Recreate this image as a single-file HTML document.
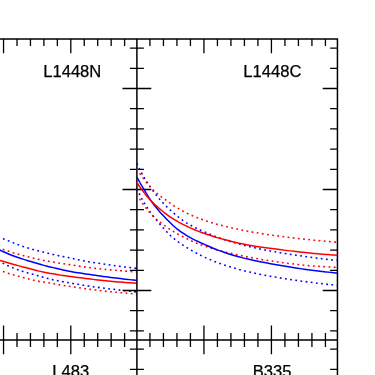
<!DOCTYPE html>
<html><head><meta charset="utf-8"><title>chart</title>
<style>
html,body{margin:0;padding:0;background:#fff;}
body{width:375px;height:375px;overflow:hidden;font-family:"Liberation Sans",sans-serif;}
svg{display:block;}
</style></head><body>
<svg width="375" height="375" viewBox="0 0 375 375">
<rect width="375" height="375" fill="#fff"/>
<path d="M-2.00 237.05 C-1.17 237.33 1.33 238.13 3.00 238.73 C4.67 239.33 6.33 239.99 8.00 240.64 C9.67 241.30 11.33 241.98 13.00 242.64 C14.67 243.31 16.33 244.01 18.00 244.64 C19.67 245.27 21.33 245.88 23.00 246.44 C24.67 247.00 26.33 247.50 28.00 248.00 C29.67 248.51 31.33 248.98 33.00 249.46 C34.67 249.93 36.33 250.41 38.00 250.85 C39.67 251.29 41.33 251.68 43.00 252.09 C44.67 252.49 46.33 252.88 48.00 253.28 C49.67 253.68 51.33 254.10 53.00 254.49 C54.67 254.88 56.33 255.25 58.00 255.61 C59.67 255.96 61.33 256.29 63.00 256.61 C64.67 256.93 66.33 257.22 68.00 257.55 C69.67 257.87 71.33 258.22 73.00 258.57 C74.67 258.92 76.33 259.29 78.00 259.65 C79.67 260.01 81.33 260.37 83.00 260.72 C84.67 261.07 86.33 261.44 88.00 261.75 C89.67 262.06 91.33 262.33 93.00 262.57 C94.67 262.82 96.33 263.00 98.00 263.21 C99.67 263.43 101.33 263.63 103.00 263.86 C104.67 264.09 106.33 264.35 108.00 264.60 C109.67 264.85 111.33 265.11 113.00 265.36 C114.67 265.60 116.33 265.84 118.00 266.07 C119.67 266.31 121.33 266.53 123.00 266.75 C124.67 266.97 126.33 267.18 128.00 267.39 C129.67 267.59 131.52 267.81 133.00 267.98 C134.48 268.15 136.25 268.34 136.90 268.41" fill="none" stroke="#0000ff" stroke-width="1.55" stroke-dasharray="1.8 3.4"/>
<path d="M-2.00 260.60 C-1.17 261.05 1.33 262.45 3.00 263.30 C4.67 264.15 6.33 264.95 8.00 265.71 C9.67 266.47 11.33 267.18 13.00 267.86 C14.67 268.54 16.33 269.18 18.00 269.78 C19.67 270.39 21.33 270.95 23.00 271.48 C24.67 272.01 26.33 272.49 28.00 272.97 C29.67 273.44 31.33 273.87 33.00 274.33 C34.67 274.80 36.33 275.27 38.00 275.75 C39.67 276.22 41.33 276.72 43.00 277.20 C44.67 277.67 46.33 278.16 48.00 278.60 C49.67 279.04 51.33 279.45 53.00 279.82 C54.67 280.18 56.33 280.49 58.00 280.81 C59.67 281.13 61.33 281.43 63.00 281.73 C64.67 282.03 66.33 282.32 68.00 282.61 C69.67 282.91 71.33 283.22 73.00 283.51 C74.67 283.80 76.33 284.09 78.00 284.36 C79.67 284.64 81.33 284.90 83.00 285.16 C84.67 285.42 86.33 285.68 88.00 285.93 C89.67 286.18 91.33 286.43 93.00 286.67 C94.67 286.91 96.33 287.16 98.00 287.39 C99.67 287.62 101.33 287.83 103.00 288.05 C104.67 288.26 106.33 288.46 108.00 288.66 C109.67 288.86 111.33 289.06 113.00 289.26 C114.67 289.46 116.33 289.65 118.00 289.85 C119.67 290.04 121.33 290.23 123.00 290.42 C124.67 290.61 126.33 290.80 128.00 290.98 C129.67 291.17 131.52 291.38 133.00 291.54 C134.48 291.70 136.25 291.90 136.90 291.97" fill="none" stroke="#0000ff" stroke-width="1.55" stroke-dasharray="1.8 3.4"/>
<path d="M-2.00 247.25 C-1.17 247.59 1.33 248.64 3.00 249.29 C4.67 249.93 6.33 250.53 8.00 251.10 C9.67 251.67 11.33 252.21 13.00 252.72 C14.67 253.24 16.33 253.73 18.00 254.20 C19.67 254.67 21.33 255.12 23.00 255.56 C24.67 256.01 26.33 256.43 28.00 256.85 C29.67 257.27 31.33 257.67 33.00 258.07 C34.67 258.47 36.33 258.88 38.00 259.26 C39.67 259.64 41.33 260.00 43.00 260.34 C44.67 260.67 46.33 260.98 48.00 261.27 C49.67 261.56 51.33 261.82 53.00 262.09 C54.67 262.35 56.33 262.60 58.00 262.86 C59.67 263.11 61.33 263.37 63.00 263.61 C64.67 263.86 66.33 264.10 68.00 264.36 C69.67 264.61 71.33 264.89 73.00 265.17 C74.67 265.44 76.33 265.73 78.00 265.99 C79.67 266.26 81.33 266.50 83.00 266.74 C84.67 266.98 86.33 267.19 88.00 267.41 C89.67 267.62 91.33 267.83 93.00 268.04 C94.67 268.24 96.33 268.44 98.00 268.63 C99.67 268.82 101.33 269.00 103.00 269.16 C104.67 269.33 106.33 269.49 108.00 269.64 C109.67 269.80 111.33 269.95 113.00 270.10 C114.67 270.25 116.33 270.39 118.00 270.53 C119.67 270.67 121.33 270.81 123.00 270.94 C124.67 271.07 126.33 271.20 128.00 271.33 C129.67 271.46 131.52 271.59 133.00 271.70 C134.48 271.81 136.25 271.93 136.90 271.97" fill="none" stroke="#ff0000" stroke-width="1.55" stroke-dasharray="1.8 3.4"/>
<path d="M-2.00 269.86 C-1.17 270.15 1.33 271.01 3.00 271.56 C4.67 272.12 6.33 272.66 8.00 273.19 C9.67 273.72 11.33 274.23 13.00 274.72 C14.67 275.22 16.33 275.70 18.00 276.17 C19.67 276.63 21.33 277.09 23.00 277.53 C24.67 277.97 26.33 278.41 28.00 278.82 C29.67 279.24 31.33 279.65 33.00 280.04 C34.67 280.42 36.33 280.80 38.00 281.12 C39.67 281.43 41.33 281.67 43.00 281.94 C44.67 282.21 46.33 282.44 48.00 282.71 C49.67 282.99 51.33 283.30 53.00 283.60 C54.67 283.90 56.33 284.24 58.00 284.53 C59.67 284.83 61.33 285.11 63.00 285.37 C64.67 285.62 66.33 285.83 68.00 286.08 C69.67 286.32 71.33 286.57 73.00 286.82 C74.67 287.07 76.33 287.34 78.00 287.59 C79.67 287.84 81.33 288.09 83.00 288.33 C84.67 288.57 86.33 288.80 88.00 289.03 C89.67 289.26 91.33 289.48 93.00 289.70 C94.67 289.92 96.33 290.14 98.00 290.34 C99.67 290.55 101.33 290.74 103.00 290.92 C104.67 291.10 106.33 291.27 108.00 291.44 C109.67 291.61 111.33 291.78 113.00 291.94 C114.67 292.10 116.33 292.26 118.00 292.41 C119.67 292.57 121.33 292.72 123.00 292.86 C124.67 293.01 126.33 293.15 128.00 293.29 C129.67 293.43 131.52 293.58 133.00 293.70 C134.48 293.82 136.25 293.96 136.90 294.01" fill="none" stroke="#ff0000" stroke-width="1.55" stroke-dasharray="1.8 3.4"/>
<path d="M-2.00 249.08 C-1.17 249.48 1.33 250.72 3.00 251.50 C4.67 252.27 6.33 253.03 8.00 253.74 C9.67 254.44 11.33 255.10 13.00 255.73 C14.67 256.35 16.33 256.92 18.00 257.49 C19.67 258.06 21.33 258.60 23.00 259.13 C24.67 259.66 26.33 260.17 28.00 260.68 C29.67 261.19 31.33 261.67 33.00 262.17 C34.67 262.67 36.33 263.20 38.00 263.69 C39.67 264.18 41.33 264.67 43.00 265.12 C44.67 265.58 46.33 265.99 48.00 266.41 C49.67 266.83 51.33 267.23 53.00 267.62 C54.67 268.02 56.33 268.42 58.00 268.81 C59.67 269.20 61.33 269.60 63.00 269.96 C64.67 270.33 66.33 270.68 68.00 271.01 C69.67 271.35 71.33 271.68 73.00 271.98 C74.67 272.29 76.33 272.58 78.00 272.84 C79.67 273.11 81.33 273.34 83.00 273.57 C84.67 273.81 86.33 274.03 88.00 274.27 C89.67 274.50 91.33 274.74 93.00 274.99 C94.67 275.23 96.33 275.50 98.00 275.74 C99.67 275.98 101.33 276.21 103.00 276.44 C104.67 276.66 106.33 276.87 108.00 277.08 C109.67 277.29 111.33 277.50 113.00 277.70 C114.67 277.91 116.33 278.11 118.00 278.30 C119.67 278.50 121.33 278.69 123.00 278.88 C124.67 279.07 126.33 279.26 128.00 279.44 C129.67 279.63 131.52 279.83 133.00 279.99 C134.48 280.15 136.25 280.33 136.90 280.40" fill="none" stroke="#0000ff" stroke-width="1.50"/>
<path d="M-2.00 260.02 C-1.17 260.23 1.33 260.81 3.00 261.26 C4.67 261.72 6.33 262.25 8.00 262.74 C9.67 263.23 11.33 263.73 13.00 264.21 C14.67 264.68 16.33 265.15 18.00 265.61 C19.67 266.06 21.33 266.50 23.00 266.94 C24.67 267.38 26.33 267.80 28.00 268.24 C29.67 268.67 31.33 269.11 33.00 269.55 C34.67 269.99 36.33 270.46 38.00 270.87 C39.67 271.28 41.33 271.65 43.00 271.99 C44.67 272.34 46.33 272.65 48.00 272.95 C49.67 273.26 51.33 273.56 53.00 273.84 C54.67 274.13 56.33 274.40 58.00 274.67 C59.67 274.94 61.33 275.20 63.00 275.45 C64.67 275.70 66.33 275.93 68.00 276.15 C69.67 276.38 71.33 276.61 73.00 276.82 C74.67 277.04 76.33 277.25 78.00 277.46 C79.67 277.67 81.33 277.88 83.00 278.09 C84.67 278.31 86.33 278.53 88.00 278.75 C89.67 278.96 91.33 279.18 93.00 279.38 C94.67 279.59 96.33 279.80 98.00 279.99 C99.67 280.17 101.33 280.35 103.00 280.52 C104.67 280.69 106.33 280.84 108.00 281.00 C109.67 281.16 111.33 281.31 113.00 281.46 C114.67 281.60 116.33 281.75 118.00 281.88 C119.67 282.02 121.33 282.16 123.00 282.29 C124.67 282.42 126.33 282.55 128.00 282.67 C129.67 282.80 131.52 282.93 133.00 283.04 C134.48 283.14 136.25 283.26 136.90 283.30" fill="none" stroke="#ff0000" stroke-width="1.50"/>
<g stroke="#000" stroke-width="1.50" fill="none" stroke-linecap="butt">
<path d="M0 38.90 H338.20 M0 339.90 H337.45 M136.90 38.90 V375 M337.45 38.15 V375"/>
</g>
<g stroke="#000" stroke-width="1.30" fill="none">
<path d="M-9.90 38.90 v7.00 M-9.90 332.90 v14.00 M3.55 38.90 v14.40 M3.55 325.50 v28.80 M17.00 38.90 v7.00 M17.00 332.90 v14.00 M30.45 38.90 v7.00 M30.45 332.90 v14.00 M43.90 38.90 v7.00 M43.90 332.90 v14.00 M57.35 38.90 v7.00 M57.35 332.90 v14.00 M70.80 38.90 v14.40 M70.80 325.50 v28.80 M84.25 38.90 v7.00 M84.25 332.90 v14.00 M97.70 38.90 v7.00 M97.70 332.90 v14.00 M111.15 38.90 v7.00 M111.15 332.90 v14.00 M124.60 38.90 v7.00 M124.60 332.90 v14.00 M149.93 38.90 v7.00 M149.93 332.90 v14.00 M163.43 38.90 v7.00 M163.43 332.90 v14.00 M176.93 38.90 v7.00 M176.93 332.90 v14.00 M190.43 38.90 v7.00 M190.43 332.90 v14.00 M203.93 38.90 v14.40 M203.93 325.50 v28.80 M217.43 38.90 v7.00 M217.43 332.90 v14.00 M230.93 38.90 v7.00 M230.93 332.90 v14.00 M244.43 38.90 v7.00 M244.43 332.90 v14.00 M257.93 38.90 v7.00 M257.93 332.90 v14.00 M271.43 38.90 v14.40 M271.43 325.50 v28.80 M284.93 38.90 v7.00 M284.93 332.90 v14.00 M298.43 38.90 v7.00 M298.43 332.90 v14.00 M311.93 38.90 v7.00 M311.93 332.90 v14.00 M325.43 38.90 v7.00 M325.43 332.90 v14.00 M129.90 48.10 h14.00 M330.15 48.10 h7.30 M129.90 68.30 h14.00 M330.15 68.30 h7.30 M122.50 88.50 h28.80 M322.75 88.50 h14.70 M129.90 108.70 h14.00 M330.15 108.70 h7.30 M129.90 128.90 h14.00 M330.15 128.90 h7.30 M129.90 149.10 h14.00 M330.15 149.10 h7.30 M129.90 169.30 h14.00 M330.15 169.30 h7.30 M122.50 189.50 h28.80 M322.75 189.50 h14.70 M129.90 209.70 h14.00 M330.15 209.70 h7.30 M129.90 229.90 h14.00 M330.15 229.90 h7.30 M129.90 250.10 h14.00 M330.15 250.10 h7.30 M129.90 270.30 h14.00 M330.15 270.30 h7.30 M122.50 290.50 h28.80 M322.75 290.50 h14.70 M129.90 310.70 h14.00 M330.15 310.70 h7.30 M129.90 330.90 h14.00 M330.15 330.90 h7.30 M129.90 349.10 h14.00 M330.15 349.10 h7.30 M129.90 369.30 h14.00 M330.15 369.30 h7.30"/>
</g>
<path d="M136.90 163.33 C137.15 163.87 137.90 165.47 138.40 166.54 C138.90 167.60 139.40 168.68 139.90 169.71 C140.40 170.74 140.90 171.76 141.40 172.72 C141.90 173.69 142.40 174.61 142.90 175.50 C143.40 176.39 143.90 177.23 144.40 178.06 C144.90 178.89 145.40 179.69 145.90 180.47 C146.40 181.26 146.90 182.03 147.40 182.78 C147.90 183.54 148.47 184.38 148.90 185.02 C149.33 185.65 149.32 185.65 150.00 186.61 C150.68 187.57 152.00 189.44 153.00 190.80 C154.00 192.15 155.00 193.46 156.00 194.73 C157.00 196.00 158.00 197.23 159.00 198.41 C160.00 199.59 161.00 200.72 162.00 201.82 C163.00 202.92 164.00 203.97 165.00 204.99 C166.00 206.02 167.00 207.00 168.00 207.96 C169.00 208.93 170.00 209.85 171.00 210.76 C172.00 211.67 173.00 212.56 174.00 213.43 C175.00 214.30 176.00 215.16 177.00 215.98 C178.00 216.80 179.00 217.61 180.00 218.37 C181.00 219.13 182.00 219.86 183.00 220.55 C184.00 221.23 185.00 221.86 186.00 222.48 C187.00 223.11 188.00 223.70 189.00 224.28 C190.00 224.86 191.00 225.42 192.00 225.96 C193.00 226.50 194.00 227.03 195.00 227.53 C196.00 228.04 197.17 228.60 198.00 229.00 C198.83 229.39 198.67 229.33 200.00 229.92 C201.33 230.51 204.00 231.68 206.00 232.54 C208.00 233.40 210.00 234.28 212.00 235.09 C214.00 235.90 216.00 236.67 218.00 237.41 C220.00 238.15 222.00 238.84 224.00 239.52 C226.00 240.19 228.00 240.82 230.00 241.44 C232.00 242.05 234.00 242.63 236.00 243.20 C238.00 243.76 240.00 244.30 242.00 244.82 C244.00 245.34 246.00 245.83 248.00 246.31 C250.00 246.79 252.00 247.25 254.00 247.70 C256.00 248.14 258.00 248.57 260.00 248.99 C262.00 249.41 264.00 249.81 266.00 250.20 C268.00 250.59 270.00 250.96 272.00 251.33 C274.00 251.69 276.00 252.05 278.00 252.39 C280.00 252.74 282.00 253.07 284.00 253.40 C286.00 253.72 288.00 254.04 290.00 254.35 C292.00 254.65 294.00 254.95 296.00 255.25 C298.00 255.54 300.00 255.83 302.00 256.11 C304.00 256.39 306.00 256.66 308.00 256.92 C310.00 257.19 312.00 257.45 314.00 257.70 C316.00 257.96 318.00 258.21 320.00 258.45 C322.00 258.70 324.00 258.93 326.00 259.17 C328.00 259.40 330.09 259.64 332.00 259.86 C333.91 260.07 336.54 260.36 337.45 260.46" fill="none" stroke="#0000ff" stroke-width="1.55" stroke-dasharray="1.8 3.4"/>
<path d="M136.90 188.70 C137.15 189.21 137.90 190.75 138.40 191.78 C138.90 192.81 139.40 193.87 139.90 194.89 C140.40 195.91 140.90 196.93 141.40 197.90 C141.90 198.86 142.40 199.79 142.90 200.68 C143.40 201.57 143.90 202.40 144.40 203.22 C144.90 204.04 145.40 204.82 145.90 205.59 C146.40 206.36 146.90 207.11 147.40 207.86 C147.90 208.60 148.47 209.42 148.90 210.04 C149.33 210.67 149.32 210.66 150.00 211.60 C150.68 212.54 152.00 214.36 153.00 215.67 C154.00 216.98 155.00 218.25 156.00 219.48 C157.00 220.72 158.00 221.90 159.00 223.08 C160.00 224.27 161.00 225.43 162.00 226.57 C163.00 227.72 164.00 228.85 165.00 229.94 C166.00 231.03 167.00 232.11 168.00 233.13 C169.00 234.15 170.00 235.15 171.00 236.07 C172.00 236.99 173.00 237.84 174.00 238.66 C175.00 239.48 176.00 240.24 177.00 240.99 C178.00 241.73 179.00 242.45 180.00 243.15 C181.00 243.85 182.00 244.52 183.00 245.18 C184.00 245.84 185.00 246.48 186.00 247.10 C187.00 247.73 188.00 248.34 189.00 248.93 C190.00 249.52 191.00 250.10 192.00 250.66 C193.00 251.23 194.00 251.79 195.00 252.34 C196.00 252.89 197.17 253.52 198.00 253.96 C198.83 254.40 198.67 254.34 200.00 255.00 C201.33 255.65 204.00 256.97 206.00 257.88 C208.00 258.79 210.00 259.65 212.00 260.47 C214.00 261.29 216.00 262.06 218.00 262.80 C220.00 263.54 222.00 264.24 224.00 264.91 C226.00 265.58 228.00 266.22 230.00 266.83 C232.00 267.44 234.00 268.02 236.00 268.57 C238.00 269.13 240.00 269.66 242.00 270.17 C244.00 270.69 246.00 271.17 248.00 271.65 C250.00 272.12 252.00 272.57 254.00 273.00 C256.00 273.44 258.00 273.86 260.00 274.26 C262.00 274.67 264.00 275.06 266.00 275.44 C268.00 275.81 270.00 276.18 272.00 276.53 C274.00 276.89 276.00 277.23 278.00 277.56 C280.00 277.90 282.00 278.22 284.00 278.53 C286.00 278.85 288.00 279.15 290.00 279.45 C292.00 279.75 294.00 280.04 296.00 280.32 C298.00 280.61 300.00 280.88 302.00 281.16 C304.00 281.43 306.00 281.69 308.00 281.95 C310.00 282.21 312.00 282.46 314.00 282.71 C316.00 282.96 318.00 283.21 320.00 283.45 C322.00 283.69 324.00 283.92 326.00 284.15 C328.00 284.38 330.09 284.62 332.00 284.84 C333.91 285.05 336.54 285.34 337.45 285.44" fill="none" stroke="#0000ff" stroke-width="1.55" stroke-dasharray="1.8 3.4"/>
<path d="M136.90 169.03 C137.15 169.42 137.90 170.62 138.40 171.40 C138.90 172.17 139.40 172.92 139.90 173.66 C140.40 174.39 140.90 175.11 141.40 175.82 C141.90 176.52 142.40 177.21 142.90 177.89 C143.40 178.56 143.90 179.22 144.40 179.87 C144.90 180.51 145.40 181.14 145.90 181.76 C146.40 182.38 146.90 182.99 147.40 183.58 C147.90 184.17 148.47 184.83 148.90 185.32 C149.33 185.82 149.32 185.82 150.00 186.55 C150.68 187.29 152.00 188.72 153.00 189.74 C154.00 190.76 155.00 191.76 156.00 192.67 C157.00 193.58 158.00 194.41 159.00 195.20 C160.00 195.98 161.00 196.64 162.00 197.36 C163.00 198.07 164.00 198.77 165.00 199.49 C166.00 200.21 167.00 200.93 168.00 201.65 C169.00 202.37 170.00 203.11 171.00 203.81 C172.00 204.51 173.00 205.20 174.00 205.86 C175.00 206.52 176.00 207.15 177.00 207.77 C178.00 208.38 179.00 208.97 180.00 209.54 C181.00 210.11 182.00 210.66 183.00 211.20 C184.00 211.73 185.00 212.24 186.00 212.74 C187.00 213.24 188.00 213.71 189.00 214.18 C190.00 214.65 191.00 215.10 192.00 215.54 C193.00 215.98 194.00 216.41 195.00 216.83 C196.00 217.25 197.17 217.71 198.00 218.05 C198.83 218.38 198.67 218.34 200.00 218.81 C201.33 219.29 204.00 220.24 206.00 220.90 C208.00 221.57 210.00 222.18 212.00 222.78 C214.00 223.38 216.00 223.95 218.00 224.50 C220.00 225.04 222.00 225.56 224.00 226.06 C226.00 226.56 228.00 227.04 230.00 227.50 C232.00 227.97 234.00 228.41 236.00 228.84 C238.00 229.27 240.00 229.68 242.00 230.07 C244.00 230.47 246.00 230.85 248.00 231.23 C250.00 231.60 252.00 231.95 254.00 232.30 C256.00 232.65 258.00 232.98 260.00 233.31 C262.00 233.64 264.00 233.95 266.00 234.26 C268.00 234.56 270.00 234.86 272.00 235.15 C274.00 235.44 276.00 235.72 278.00 235.99 C280.00 236.26 282.00 236.52 284.00 236.78 C286.00 237.04 288.00 237.29 290.00 237.53 C292.00 237.78 294.00 238.01 296.00 238.24 C298.00 238.47 300.00 238.70 302.00 238.92 C304.00 239.13 306.00 239.35 308.00 239.55 C310.00 239.76 312.00 239.96 314.00 240.16 C316.00 240.36 318.00 240.55 320.00 240.74 C322.00 240.92 324.00 241.11 326.00 241.28 C328.00 241.46 330.09 241.64 332.00 241.80 C333.91 241.96 336.54 242.18 337.45 242.25" fill="none" stroke="#ff0000" stroke-width="1.55" stroke-dasharray="1.8 3.4"/>
<path d="M136.90 194.37 C137.15 194.80 137.90 196.10 138.40 196.93 C138.90 197.76 139.40 198.57 139.90 199.36 C140.40 200.15 140.90 200.91 141.40 201.66 C141.90 202.41 142.40 203.14 142.90 203.86 C143.40 204.57 143.90 205.26 144.40 205.94 C144.90 206.62 145.40 207.28 145.90 207.93 C146.40 208.57 146.90 209.20 147.40 209.82 C147.90 210.43 148.47 211.11 148.90 211.62 C149.33 212.13 149.32 212.14 150.00 212.89 C150.68 213.64 152.00 215.11 153.00 216.12 C154.00 217.14 155.00 218.08 156.00 218.97 C157.00 219.85 158.00 220.64 159.00 221.43 C160.00 222.22 161.00 222.96 162.00 223.71 C163.00 224.46 164.00 225.22 165.00 225.94 C166.00 226.67 167.00 227.38 168.00 228.07 C169.00 228.75 170.00 229.41 171.00 230.05 C172.00 230.68 173.00 231.29 174.00 231.89 C175.00 232.48 176.00 233.05 177.00 233.60 C178.00 234.16 179.00 234.69 180.00 235.21 C181.00 235.73 182.00 236.23 183.00 236.73 C184.00 237.23 185.00 237.73 186.00 238.23 C187.00 238.74 188.00 239.25 189.00 239.75 C190.00 240.25 191.00 240.75 192.00 241.22 C193.00 241.69 194.00 242.15 195.00 242.58 C196.00 243.00 197.17 243.44 198.00 243.76 C198.83 244.08 198.67 244.03 200.00 244.49 C201.33 244.96 204.00 245.89 206.00 246.54 C208.00 247.19 210.00 247.81 212.00 248.40 C214.00 249.00 216.00 249.57 218.00 250.12 C220.00 250.67 222.00 251.19 224.00 251.70 C226.00 252.21 228.00 252.70 230.00 253.17 C232.00 253.64 234.00 254.10 236.00 254.54 C238.00 254.98 240.00 255.40 242.00 255.81 C244.00 256.22 246.00 256.62 248.00 257.00 C250.00 257.39 252.00 257.76 254.00 258.12 C256.00 258.48 258.00 258.83 260.00 259.17 C262.00 259.51 264.00 259.84 266.00 260.16 C268.00 260.48 270.00 260.79 272.00 261.09 C274.00 261.39 276.00 261.68 278.00 261.96 C280.00 262.24 282.00 262.52 284.00 262.79 C286.00 263.05 288.00 263.31 290.00 263.56 C292.00 263.82 294.00 264.06 296.00 264.30 C298.00 264.53 300.00 264.77 302.00 264.99 C304.00 265.21 306.00 265.45 308.00 265.64 C310.00 265.82 312.00 265.96 314.00 266.10 C316.00 266.23 318.00 266.33 320.00 266.44 C322.00 266.56 324.00 266.66 326.00 266.78 C328.00 266.90 330.09 267.03 332.00 267.15 C333.91 267.27 336.54 267.43 337.45 267.49" fill="none" stroke="#ff0000" stroke-width="1.55" stroke-dasharray="1.8 3.4"/>
<path d="M136.90 177.01 C137.15 177.48 137.90 178.87 138.40 179.78 C138.90 180.69 139.40 181.60 139.90 182.49 C140.40 183.38 140.90 184.26 141.40 185.12 C141.90 185.99 142.40 186.85 142.90 187.70 C143.40 188.55 143.90 189.39 144.40 190.23 C144.90 191.07 145.40 191.91 145.90 192.73 C146.40 193.56 146.90 194.39 147.40 195.20 C147.90 196.01 148.47 196.92 148.90 197.59 C149.33 198.27 149.32 198.29 150.00 199.27 C150.68 200.25 152.00 202.14 153.00 203.48 C154.00 204.82 155.00 206.08 156.00 207.32 C157.00 208.56 158.00 209.76 159.00 210.93 C160.00 212.10 161.00 213.23 162.00 214.33 C163.00 215.42 164.00 216.48 165.00 217.52 C166.00 218.57 167.00 219.57 168.00 220.57 C169.00 221.57 170.00 222.55 171.00 223.51 C172.00 224.46 173.00 225.41 174.00 226.31 C175.00 227.20 176.00 228.07 177.00 228.88 C178.00 229.69 179.00 230.43 180.00 231.16 C181.00 231.88 182.00 232.56 183.00 233.23 C184.00 233.89 185.00 234.54 186.00 235.15 C187.00 235.77 188.00 236.36 189.00 236.92 C190.00 237.49 191.00 238.03 192.00 238.56 C193.00 239.08 194.00 239.59 195.00 240.09 C196.00 240.58 197.17 241.14 198.00 241.53 C198.83 241.92 198.67 241.85 200.00 242.44 C201.33 243.03 204.00 244.19 206.00 245.07 C208.00 245.95 210.00 246.87 212.00 247.71 C214.00 248.55 216.00 249.35 218.00 250.11 C220.00 250.87 222.00 251.58 224.00 252.27 C226.00 252.96 228.00 253.60 230.00 254.23 C232.00 254.85 234.00 255.44 236.00 256.00 C238.00 256.57 240.00 257.10 242.00 257.62 C244.00 258.13 246.00 258.62 248.00 259.09 C250.00 259.56 252.00 260.01 254.00 260.44 C256.00 260.88 258.00 261.29 260.00 261.69 C262.00 262.09 264.00 262.47 266.00 262.84 C268.00 263.21 270.00 263.55 272.00 263.90 C274.00 264.26 276.00 264.61 278.00 264.96 C280.00 265.31 282.00 265.67 284.00 266.02 C286.00 266.36 288.00 266.69 290.00 267.02 C292.00 267.34 294.00 267.66 296.00 267.97 C298.00 268.28 300.00 268.58 302.00 268.88 C304.00 269.17 306.00 269.47 308.00 269.75 C310.00 270.02 312.00 270.27 314.00 270.52 C316.00 270.76 318.00 270.99 320.00 271.22 C322.00 271.45 324.00 271.68 326.00 271.90 C328.00 272.12 330.09 272.35 332.00 272.55 C333.91 272.76 336.54 273.04 337.45 273.13" fill="none" stroke="#0000ff" stroke-width="1.50"/>
<path d="M136.90 182.37 C137.15 182.76 137.90 183.96 138.40 184.73 C138.90 185.49 139.40 186.24 139.90 186.97 C140.40 187.70 140.90 188.42 141.40 189.11 C141.90 189.81 142.40 190.49 142.90 191.15 C143.40 191.82 143.90 192.47 144.40 193.10 C144.90 193.74 145.40 194.36 145.90 194.97 C146.40 195.58 146.90 196.17 147.40 196.75 C147.90 197.33 148.47 197.97 148.90 198.46 C149.33 198.94 149.32 198.95 150.00 199.66 C150.68 200.38 152.00 201.77 153.00 202.77 C154.00 203.76 155.00 204.71 156.00 205.63 C157.00 206.55 158.00 207.43 159.00 208.28 C160.00 209.13 161.00 209.94 162.00 210.74 C163.00 211.53 164.00 212.30 165.00 213.05 C166.00 213.81 167.00 214.56 168.00 215.28 C169.00 216.00 170.00 216.71 171.00 217.39 C172.00 218.06 173.00 218.71 174.00 219.33 C175.00 219.96 176.00 220.55 177.00 221.14 C178.00 221.72 179.00 222.29 180.00 222.84 C181.00 223.39 182.00 223.92 183.00 224.44 C184.00 224.96 185.00 225.46 186.00 225.95 C187.00 226.43 188.00 226.89 189.00 227.35 C190.00 227.80 191.00 228.25 192.00 228.68 C193.00 229.11 194.00 229.53 195.00 229.94 C196.00 230.35 197.17 230.81 198.00 231.14 C198.83 231.47 198.67 231.42 200.00 231.91 C201.33 232.40 204.00 233.39 206.00 234.08 C208.00 234.77 210.00 235.43 212.00 236.06 C214.00 236.70 216.00 237.30 218.00 237.88 C220.00 238.46 222.00 239.02 224.00 239.56 C226.00 240.09 228.00 240.61 230.00 241.10 C232.00 241.60 234.00 242.07 236.00 242.53 C238.00 242.99 240.00 243.43 242.00 243.85 C244.00 244.27 246.00 244.69 248.00 245.07 C250.00 245.44 252.00 245.78 254.00 246.10 C256.00 246.42 258.00 246.70 260.00 246.98 C262.00 247.27 264.00 247.54 266.00 247.80 C268.00 248.06 270.00 248.29 272.00 248.54 C274.00 248.80 276.00 249.05 278.00 249.32 C280.00 249.58 282.00 249.86 284.00 250.12 C286.00 250.38 288.00 250.63 290.00 250.87 C292.00 251.12 294.00 251.35 296.00 251.58 C298.00 251.80 300.00 252.02 302.00 252.23 C304.00 252.44 306.00 252.65 308.00 252.84 C310.00 253.04 312.00 253.23 314.00 253.41 C316.00 253.60 318.00 253.77 320.00 253.95 C322.00 254.12 324.00 254.28 326.00 254.44 C328.00 254.60 330.09 254.77 332.00 254.91 C333.91 255.05 336.54 255.24 337.45 255.30" fill="none" stroke="#ff0000" stroke-width="1.50"/>
<g style="filter:grayscale(1)" font-family="'Liberation Sans', sans-serif" font-size="16.60px" fill="#000" stroke="#000" stroke-width="0.25">
<text transform="translate(43.20 76.85) scale(1.000 1)">L1448N</text>
<text transform="translate(243.30 76.85) scale(1.000 1)">L1448C</text>
<text transform="translate(52.20 377.20) scale(1.000 1)">L483</text>
<text transform="translate(252.80 377.20) scale(1.000 1)">B335</text>
</g>
</svg>
</body></html>
